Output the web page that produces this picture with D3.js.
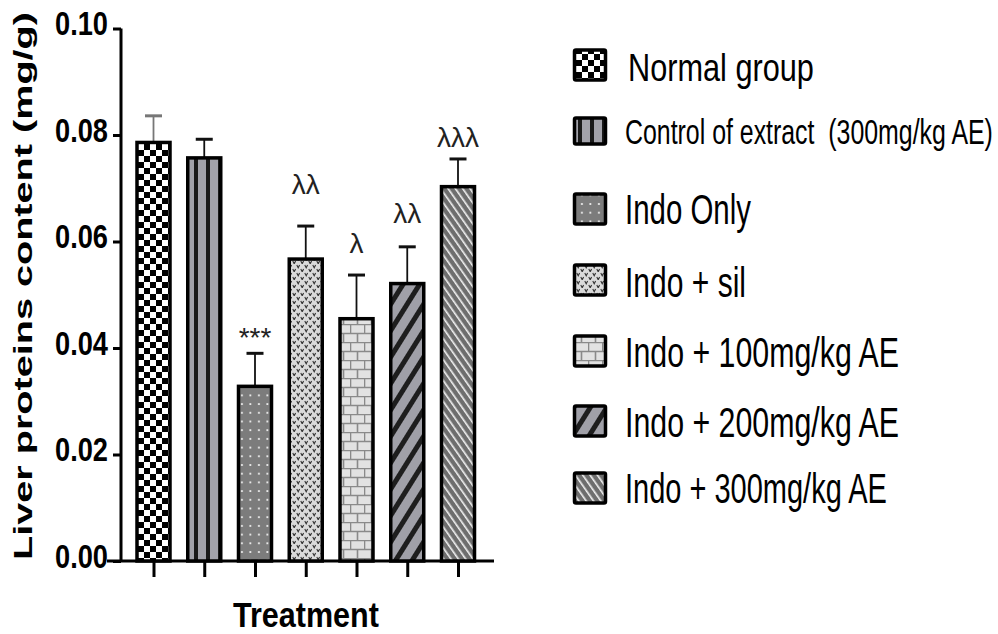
<!DOCTYPE html>
<html>
<head>
<meta charset="utf-8">
<script src="https://cdn.jsdelivr.net/npm/d3@7"></script>
<style>
  html, body { margin: 0; padding: 0; background: #fff; }
  svg { display: block; }
  text { font-family: "Liberation Sans", Arial, sans-serif; white-space: pre; }
</style>
</head>
<body>
<svg id="chart" width="998" height="634"></svg>
<script>
// Liver protein content per treatment group (mean and SD, mg/g)
const groups = ["Normal group", "Control of extract  (300mg/kg AE)", "Indo Only", "Indo + sil",
                "Indo + 100mg/kg AE", "Indo + 200mg/kg AE", "Indo + 300mg/kg AE"];
const means = [0.0786, 0.0757, 0.0328, 0.0567, 0.0455, 0.0521, 0.0703];
const errors = [0.0050, 0.0035, 0.0062, 0.0062, 0.0082, 0.0069, 0.0052];
const marks = ["", "", "***", "λλ", "λ", "λλ", "λλλ"];
const yTicks = [0, 0.02, 0.04, 0.06, 0.08, 0.10];
const patternIds = ["checker", "vstripe", "dots", "vee", "brick", "diagA", "diagB"];

// layout: gap between error cap and its mark, legend rows
const markLift = [0, 0, 6, 32, 22, 24, 12];
const legendY = [65, 131, 209, 280, 351, 421, 488];
const legendBase = [81, 144, 224, 297, 367, 437, 503];
const legendWidth = [186, 368, 126, 121, 274, 274, 262];
const legendFont = [38, 36, 42, 42, 42, 42, 42];
const legendX = [628, 625, 625, 625, 625, 625, 625];

const svg = d3.select("#chart");
const defs = svg.append("defs");

// squeeze/stretch a text horizontally so it spans the given width
function fit(sel, x, y, width) {
  const natural = sel.node().getComputedTextLength();
  const s = width / natural;
  sel.attr("x", 0).attr("y", 0).attr("transform", `translate(${x},${y}) scale(${s},1)`);
  return sel;
}

// --- fill patterns ---
function pat(id, w, h) {
  return defs.append("pattern").attr("id", id).attr("patternUnits", "userSpaceOnUse")
    .attr("width", w).attr("height", h);
}
// checkerboard
let p = pat("checker", 12, 12);
p.append("rect").attr("width", 12).attr("height", 12).attr("fill", "#fff");
p.append("rect").attr("width", 6).attr("height", 6).attr("fill", "#000");
p.append("rect").attr("x", 6).attr("y", 6).attr("width", 6).attr("height", 6).attr("fill", "#000");
// vertical stripes
p = pat("vstripe", 12, 12);
p.append("rect").attr("width", 12).attr("height", 12).attr("fill", "#a2a2aa");
p.append("rect").attr("x", 2).attr("width", 4).attr("height", 12).attr("fill", "#1a1a1a");
// dots on dark grey
p = pat("dots", 8.5, 8.7);
p.append("rect").attr("width", 8.5).attr("height", 8.7).attr("fill", "#7c7c7c");
p.append("rect").attr("x", 3).attr("y", 3).attr("width", 1.8).attr("height", 1.8).attr("fill", "#f4f4f4");
// small v marks on light grey
p = pat("vee", 8, 8);
p.append("rect").attr("width", 8).attr("height", 8).attr("fill", "#dadada");
p.append("path").attr("d", "M0.8,1 L2.2,3.8 L3.6,1").attr("fill", "none").attr("stroke", "#333").attr("stroke-width", 1.1);
p.append("path").attr("d", "M4.8,5 L6.2,7.8 L7.6,5").attr("fill", "none").attr("stroke", "#333").attr("stroke-width", 1.1);
// brick
p = pat("brick", 14, 18);
p.append("rect").attr("width", 14).attr("height", 18).attr("fill", "#e2e2e2");
p.append("path").attr("d", "M0,0.5 H14 M0,9.5 H14 M0.5,0 V9 M7.5,9 V18")
  .attr("stroke", "#8a8a8a").attr("stroke-width", 1.6).attr("fill", "none");
// diagonal stripes rising
p = pat("diagA", 14, 14).attr("patternTransform", "rotate(32)");
p.append("rect").attr("width", 14).attr("height", 14).attr("fill", "#a0a0a8");
p.append("rect").attr("width", 5).attr("height", 14).attr("fill", "#1e1e1e");
// diagonal thin white lines falling
p = pat("diagB", 6, 6).attr("patternTransform", "rotate(-35)");
p.append("rect").attr("width", 6).attr("height", 6).attr("fill", "#6e6e6e");
p.append("rect").attr("width", 1.6).attr("height", 6).attr("fill", "#f2f2f2");

// --- scales ---
const y = d3.scaleLinear().domain([0, 0.10]).range([561, 28.5]);
const x = d3.scalePoint().domain(groups).range([153.5, 458]);
const barW = 33;

// --- axes ---
const yAxis = d3.axisLeft(y).tickValues(yTicks).tickFormat(d3.format(".2f")).tickSize(8).tickPadding(5);
const gy = svg.append("g").attr("transform", "translate(121,0)").call(yAxis);
gy.select(".domain").attr("stroke", "#000").attr("stroke-width", 3).attr("d", "M0,28.5V561");
gy.selectAll(".tick line").attr("stroke", "#000").attr("stroke-width", 3);
gy.selectAll(".tick text")
  .attr("font-family", "Liberation Sans, Arial, sans-serif")
  .attr("font-size", 33).attr("font-weight", "bold").attr("fill", "#000").attr("dy", null)
  .each(function () { fit(d3.select(this), -13, 6, 53); });

const xAxis = d3.axisBottom(x).tickSize(16).tickFormat("");
const gx = svg.append("g").attr("transform", "translate(0,561)").call(xAxis);
gx.select(".domain").attr("stroke", "#000").attr("stroke-width", 3).attr("d", "M107,0H494");
gx.selectAll(".tick line").attr("stroke", "#000").attr("stroke-width", 3);

// --- error bars ---
const eb = svg.append("g");
groups.forEach((g, i) => {
  const cx = x(g);
  const col = i === 0 ? "#777" : "#111";
  const top = y(means[i] + errors[i]);
  eb.append("line").attr("x1", cx).attr("x2", cx).attr("y1", y(means[i])).attr("y2", top)
    .attr("stroke", col).attr("stroke-width", 1.8);
  eb.append("line").attr("x1", cx - 8.5).attr("x2", cx + 8.5).attr("y1", top).attr("y2", top)
    .attr("stroke", col).attr("stroke-width", 3);
});

// --- bars ---
svg.append("g").selectAll("rect").data(groups).join("rect")
  .attr("x", d => x(d) - barW / 2)
  .attr("y", (d, i) => y(means[i]))
  .attr("width", barW)
  .attr("height", (d, i) => y(0) - y(means[i]))
  .attr("fill", (d, i) => `url(#${patternIds[i]})`)
  .attr("stroke", "#000").attr("stroke-width", 3.5);

// --- significance marks ---
svg.append("g").selectAll("text").data(groups).join("text")
  .attr("x", d => x(d))
  .attr("y", (d, i) => y(means[i] + errors[i]) - markLift[i])
  .attr("text-anchor", "middle")
  .attr("font-family", (d, i) => i === 2 ? "Liberation Sans, Arial, sans-serif" : "Liberation Serif, serif")
  .attr("font-size", (d, i) => i === 2 ? 28 : 28)
  .attr("fill", "#222")
  .text((d, i) => marks[i]);

// --- axis titles ---
const yTitle = svg.append("text").attr("text-anchor", "middle")
  .attr("font-weight", "bold").attr("font-size", 26).attr("fill", "#000")
  .text("Liver proteins content (mg/g)");
fit(yTitle, 0, 0, 548);
yTitle.attr("transform", `translate(32,286) rotate(-90) ${yTitle.attr("transform").replace("translate(0,0) ", "")}`);

const xTitle = svg.append("text").attr("font-weight", "bold").attr("font-size", 35).attr("fill", "#000")
  .text("Treatment");
fit(xTitle, 233, 626.5, 146);

// --- legend ---
const lg = svg.append("g");
groups.forEach((g, i) => {
  const h = i === 1 ? 26 : 30;
  lg.append("rect").attr("x", 574.5).attr("y", legendY[i] - h / 2).attr("width", 31).attr("height", h)
    .attr("fill", `url(#${patternIds[i]})`).attr("stroke", "#000").attr("stroke-width", 3.5).attr("rx", 1.5);
  const t = lg.append("text").attr("font-size", legendFont[i]).attr("fill", "#000").text(g);
  fit(t, legendX[i], legendBase[i], legendWidth[i]);
});
</script>
</body>
</html>
